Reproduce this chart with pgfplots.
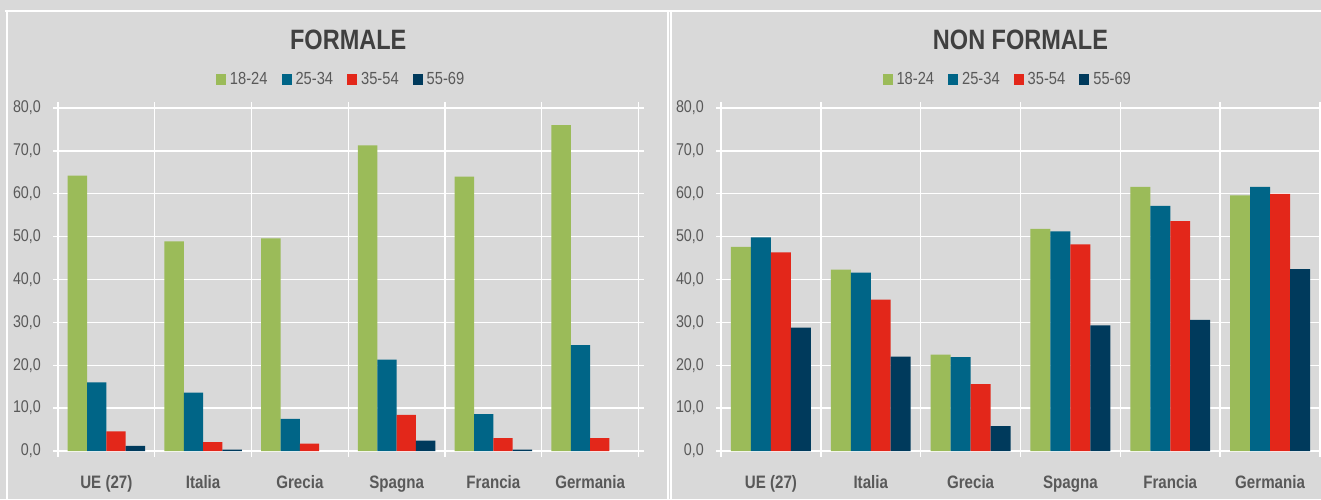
\documentclass[border=0pt]{standalone}
\usepackage{fontspec}
\setmainfont{Liberation Sans}[FakeStretch=0.84]
\usepackage{pgfplots}
\pgfplotsset{compat=1.18}
\definecolor{cg}{HTML}{9BBB59}
\definecolor{ct}{HTML}{006587}
\definecolor{cr}{HTML}{E3271A}
\definecolor{cn}{HTML}{003A5C}
\definecolor{bg}{HTML}{D9D9D9}
\definecolor{tk}{HTML}{595959}
\definecolor{tt}{HTML}{404040}
\pgfplotsset{
  panel/.style={
    anchor=south west, scale only axis, height=343pt,
    ymin=0, ymax=80, xmin=-0.5, xmax=5.5, enlargelimits=false,
    axis line style={draw=none},
    ytick={0,10,...,80},
    xtick={0,...,5},
    xticklabels={{UE (27)},{Italia},{Grecia},{Spagna},{Francia},{Germania}},
    minor xtick={-0.5,0.5,...,5.5},
    xminorgrids=true, ymajorgrids=true, xmajorgrids=false,
    major grid style={white, line width=1.4pt},
    minor grid style={white, line width=1.4pt},
    tick align=outside,
    major tick length=5pt, minor tick length=6pt,
    every tick/.style={white, line width=1.4pt},
    major x tick style={draw=none},
    /pgf/number format/.cd, fixed, fixed zerofill, precision=1, use comma, assume math mode=true,
    /pgfplots/.cd,
    yticklabel style={font=\fontsize{17}{17}\selectfont, text=tk, anchor=east, inner sep=0pt, xshift=-12pt},
    xticklabel style={font=\fontsize{18}{18}\selectfont\bfseries, text=tk, anchor=base, inner sep=0pt, yshift=-32pt},
    ybar, bar width=0.2,
    title style={font=\fontsize{28}{28}\selectfont\bfseries, text=tt, at={(0.5,1)}, anchor=base, yshift=53pt},
    legend style={draw=none, fill=none, anchor=center, yshift=29pt, legend columns=4,
      font=\fontsize{17.5}{17.5}\selectfont, text=tk, nodes={inner sep=0pt},
      /tikz/every odd column/.append style={column sep=4pt},
      /tikz/every even column/.append style={column sep=14pt}},
    legend image code/.code={\fill (0pt,-5.5pt) rectangle (10pt,5.5pt);},
  }
}
\begin{document}
\begin{tikzpicture}[x=1pt,y=1pt]
\fill[bg] (0,0) rectangle (1321,499);
\draw[white, line width=2.8pt] (5,488) -- (1321,488);
\draw[white, line width=1.6pt] (7,0) -- (7,488);
\draw[white, line width=1.2pt] (668,0) -- (668,488);
\draw[white, line width=1.2pt] (671,0) -- (671,488);
\begin{axis}[panel, at={(58pt,48pt)}, width=580.5pt, title={FORMALE},
  legend style={at={(0.486,1)}}]
\addplot[fill=cg, draw=none, bar shift=-0.3] coordinates {(0,64.2) (1,48.9) (2,49.6) (3,71.3) (4,64.0) (5,76.0)};
\addplot[fill=ct, draw=none, bar shift=-0.1] coordinates {(0,16.0) (1,13.6) (2,7.5) (3,21.3) (4,8.6) (5,24.7)};
\addplot[fill=cr, draw=none, bar shift=0.1] coordinates {(0,4.6) (1,2.1) (2,1.7) (3,8.4) (4,3.0) (5,3.0)};
\addplot[fill=cn, draw=none, bar shift=0.3] coordinates {(0,1.2) (1,0.3) (3,2.4) (4,0.3)};
\legend{18-24,25-34,35-54,55-69}
\end{axis}
\begin{axis}[panel, at={(721pt,48pt)}, width=599pt, title={NON FORMALE},
  legend style={at={(0.477,1)}}]
\addplot[fill=cg, draw=none, bar shift=-0.3] coordinates {(0,47.6) (1,42.3) (2,22.5) (3,51.8) (4,61.6) (5,59.6)};
\addplot[fill=ct, draw=none, bar shift=-0.1] coordinates {(0,49.8) (1,41.6) (2,21.9) (3,51.2) (4,57.2) (5,61.6)};
\addplot[fill=cr, draw=none, bar shift=0.1] coordinates {(0,46.3) (1,35.3) (2,15.6) (3,48.2) (4,53.6) (5,60.0)};
\addplot[fill=cn, draw=none, bar shift=0.3] coordinates {(0,28.8) (1,22.0) (2,5.8) (3,29.3) (4,30.6) (5,42.4)};
\legend{18-24,25-34,35-54,55-69}
\end{axis}
\pgfresetboundingbox
\useasboundingbox (0,0) rectangle (1321,499);
\end{tikzpicture}
\end{document}
